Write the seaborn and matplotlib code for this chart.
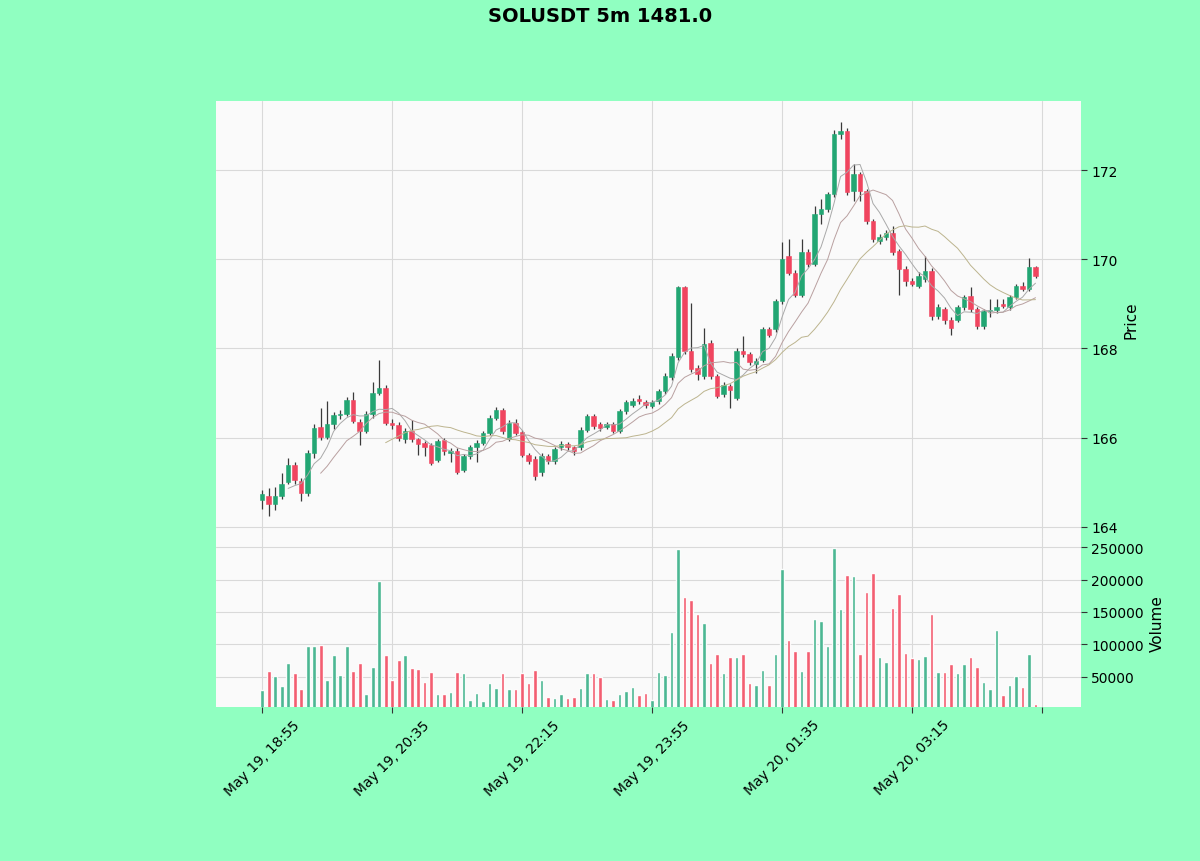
import numpy as np
import pandas as pd
import matplotlib
matplotlib.use("Agg")
import matplotlib.pyplot as plt
import seaborn as sns
from matplotlib.ticker import ScalarFormatter

title = "SOLUSDT 5m 1481.0"

open_ = [164.61,164.70,164.52,164.70,165.00,165.39,165.03,164.76,165.66,166.24,
         166.02,166.31,166.50,166.54,166.85,166.36,166.16,166.52,167.01,167.12,
         166.34,166.29,165.96,166.14,165.96,165.87,165.84,165.51,165.94,165.65,
         165.69,165.27,165.58,165.78,165.89,166.11,166.45,166.63,165.98,166.34,
         166.12,165.62,165.53,165.22,165.60,165.47,165.80,165.85,165.78,165.78,
         166.18,166.48,166.31,166.25,166.31,166.16,166.59,166.74,166.86,166.79,
         166.72,166.82,167.04,167.35,167.80,169.37,167.94,167.57,167.38,168.13,
         167.38,166.97,167.15,166.90,167.94,167.87,167.65,167.75,168.43,168.43,
         169.06,170.07,169.70,169.21,170.16,169.89,171.01,171.12,171.46,172.81,
         172.88,171.53,171.91,171.53,170.86,170.40,170.49,170.60,170.19,169.78,
         169.51,169.40,169.55,169.74,168.73,168.88,168.65,168.65,168.92,169.17,
         168.88,168.50,168.84,168.86,169.00,168.92,169.15,169.40,169.33,169.82]
close = [164.74,164.52,164.70,164.96,165.39,165.05,164.76,165.66,166.22,166.02,
         166.31,166.50,166.54,166.85,166.38,166.16,166.52,167.01,167.12,166.34,
         166.29,166.00,166.14,165.96,165.85,165.80,165.44,165.92,165.69,165.69,
         165.24,165.58,165.78,165.89,166.11,166.45,166.63,166.14,166.34,166.11,
         165.62,165.47,165.13,165.60,165.47,165.75,165.85,165.78,165.71,166.18,
         166.48,166.26,166.22,166.31,166.16,166.59,166.79,166.82,166.83,166.74,
         166.79,167.04,167.38,167.83,169.37,167.94,167.53,167.42,168.09,167.38,
         166.93,167.19,167.08,167.94,167.87,167.69,167.72,168.43,168.31,169.06,
         170.00,169.70,169.21,170.16,169.89,171.01,171.12,171.46,172.81,172.88,
         171.50,171.91,171.53,170.86,170.45,170.50,170.60,170.16,169.78,169.51,
         169.44,169.62,169.74,168.73,168.92,168.65,168.47,168.92,169.15,168.88,
         168.50,168.84,168.86,168.92,168.95,169.15,169.40,169.33,169.82,169.62]
high = [164.83,164.88,164.90,165.21,165.55,165.45,165.10,165.72,166.30,166.67,
        166.82,166.58,166.62,166.92,167.02,166.42,166.60,167.24,167.75,167.18,
        166.42,166.35,166.22,166.40,166.00,165.92,165.88,165.98,166.00,165.76,
        165.76,165.64,165.84,165.95,166.16,166.50,166.68,166.66,166.40,166.42,
        166.18,165.66,165.58,165.66,165.64,165.80,165.92,165.90,165.82,166.24,
        166.54,166.52,166.36,166.36,166.36,166.64,166.84,166.88,166.96,166.84,
        166.84,167.10,167.44,167.90,169.40,169.40,169.03,167.62,168.47,168.18,
        167.42,167.25,167.20,168.00,168.29,167.92,167.78,168.48,168.48,169.12,
        170.38,170.45,169.76,170.45,170.22,171.20,171.35,171.52,172.90,173.08,
        172.94,172.13,171.96,171.58,170.90,170.56,170.66,170.75,170.24,169.84,
        169.58,169.72,170.07,169.80,169.00,168.94,168.70,168.98,169.20,169.37,
        168.92,168.88,169.10,169.10,169.10,169.20,169.45,169.48,170.04,169.86]
low = [164.40,164.25,164.38,164.62,164.95,164.95,164.57,164.70,165.55,165.95,
       165.98,166.20,166.42,166.48,166.32,165.84,166.10,166.45,166.95,166.28,
       166.20,165.92,165.88,165.90,165.62,165.60,165.38,165.45,165.62,165.45,
       165.18,165.22,165.52,165.45,165.84,166.05,166.40,166.08,165.92,166.05,
       165.56,165.40,165.05,165.15,165.42,165.42,165.72,165.72,165.62,165.72,
       166.12,166.20,166.16,166.20,166.10,166.10,166.54,166.68,166.76,166.66,
       166.66,166.76,166.98,167.30,167.74,167.88,167.48,167.30,167.32,167.32,
       166.88,166.92,166.67,166.85,167.80,167.62,167.45,167.70,168.25,168.38,
       169.00,169.64,169.15,169.15,169.82,169.84,170.80,171.06,171.40,172.70,
       171.44,171.30,171.30,170.80,170.38,170.34,170.44,170.10,169.20,169.40,
       169.40,169.36,169.50,168.65,168.66,168.55,168.30,168.60,168.86,168.82,
       168.44,168.44,168.70,168.80,168.90,168.86,169.10,169.28,169.28,169.58]
volume = [30200,58900,51000,35400,71000,55200,30700,98000,98000,99000,
          44800,83800,52600,98000,58900,71900,22900,65600,198400,83800,
          44800,76000,83800,63000,61500,42200,57800,22900,24000,26600,
          56800,56200,14600,25500,12500,40600,32800,55200,30700,30700,
          55200,40600,60400,45800,18700,17700,24000,17700,18700,33300,
          55200,55200,50000,15100,14600,24000,27600,34400,21400,25000,
          14600,57800,52600,119300,246900,172400,168200,146300,132300,70800,
          85400,55200,81200,80200,85400,40600,38000,60400,38000,85400,
          215600,107300,90100,59400,90100,139600,135900,96900,247900,154200,
          206200,204700,85400,181200,209900,80200,73400,156800,177600,86500,
          78600,77100,82800,146300,56800,56800,69800,55200,69800,81200,
          65600,42200,31800,121900,21400,37000,51000,34400,85400,8300]

mav_periods = [5, 10, 20]
tick_positions = [0, 20, 40, 60, 80, 100, 120]
tick_labels = ["May 19, 18:55", "May 19, 20:35", "May 19, 22:15",
               "May 19, 23:55", "May 20, 01:35", "May 20, 03:15", ""]
price_ticks = [164, 166, 168, 170, 172]
volume_ticks = [50000, 100000, 150000, 200000, 250000]

UP = "#22a673"
DOWN = "#f0455f"
VUP = "#43b48e"
VDOWN = "#f3566a"
mav_colors = ["#a9a9a9", "#b9a0a0", "#bcb48e"]

sns.set_style("whitegrid", rc={"axes.facecolor": "#fafafa",
                               "grid.color": "#d9d9d9",
                               "axes.edgecolor": "#fafafa",
                               "text.color": "black",
                               "axes.labelcolor": "black",
                               "xtick.color": "black",
                               "ytick.color": "black"})
plt.rcParams["font.family"] = ["DejaVu Sans"]

df = pd.DataFrame({"open": open_, "high": high, "low": low,
                   "close": close, "volume": volume})
df["idx"] = np.arange(len(df))
df["up"] = df["close"] >= df["open"]

fig = plt.figure(figsize=(12, 8.62), dpi=100, facecolor="#90ffc1")
W, H = 1200, 862
ax = fig.add_axes([216 / W, (H - 539) / H, 865 / W, 437 / H])
axv = fig.add_axes([216 / W, (H - 708) / H, 865 / W, 169 / H], sharex=ax)

# wicks
ax.vlines(df["idx"], df["low"], df["high"], colors="#3a3a3a", linewidth=0.9, zorder=2)
# bodies
body_h = (df["close"] - df["open"]).to_numpy()
body_h = np.where(np.abs(body_h) < 0.02, np.sign(body_h + 1e-9) * 0.02, body_h)
cols = [UP if u else DOWN for u in df["up"]]
ax.bar(df["idx"], body_h, bottom=df["open"], width=0.7,
       color=cols, edgecolor=cols, linewidth=0.4, zorder=3)

# moving averages
for p, col in zip(mav_periods, mav_colors):
    ma = df["close"].rolling(p).mean()
    sns.lineplot(x=df["idx"], y=ma, ax=ax, color=col, linewidth=0.7, zorder=4)

ax.set_xlim(-7.1, 126)
ax.set_ylim(163.75, 173.55)
ax.yaxis.tick_right()
ax.yaxis.set_label_position("right")
ax.set_yticks(price_ticks)
ax.set_ylabel("Price", fontsize=11)
ax.set_xlabel("")
ax.set_xticks(tick_positions)
ax.tick_params(axis="x", labelbottom=False, length=0)
ax.tick_params(axis="y", labelsize=10, length=4, color="#333333")
for s in ax.spines.values():
    s.set_visible(False)

# volume
axv.bar(df["idx"], df["volume"], width=0.58,
        color=[VUP if u else VDOWN for u in df["up"]], alpha=0.95, zorder=3)
axv.set_ylim(3500, 264000)
axv.yaxis.tick_right()
axv.yaxis.set_label_position("right")
axv.set_yticks(volume_ticks)
fmt = ScalarFormatter(useOffset=False)
fmt.set_scientific(False)
axv.yaxis.set_major_formatter(fmt)
axv.set_ylabel("Volume", fontsize=11)
axv.set_xticks(tick_positions)
axv.set_xticklabels(tick_labels, rotation=45, fontsize=10)
axv.tick_params(axis="x", length=4, color="#333333", bottom=True)
axv.tick_params(axis="y", labelsize=10, length=4, color="#333333")
for s in axv.spines.values():
    s.set_visible(False)

fig.suptitle(title, fontsize=14, fontweight="bold", y=0.992, color="black")

fig.savefig("out.png", dpi=100, facecolor=fig.get_facecolor())
